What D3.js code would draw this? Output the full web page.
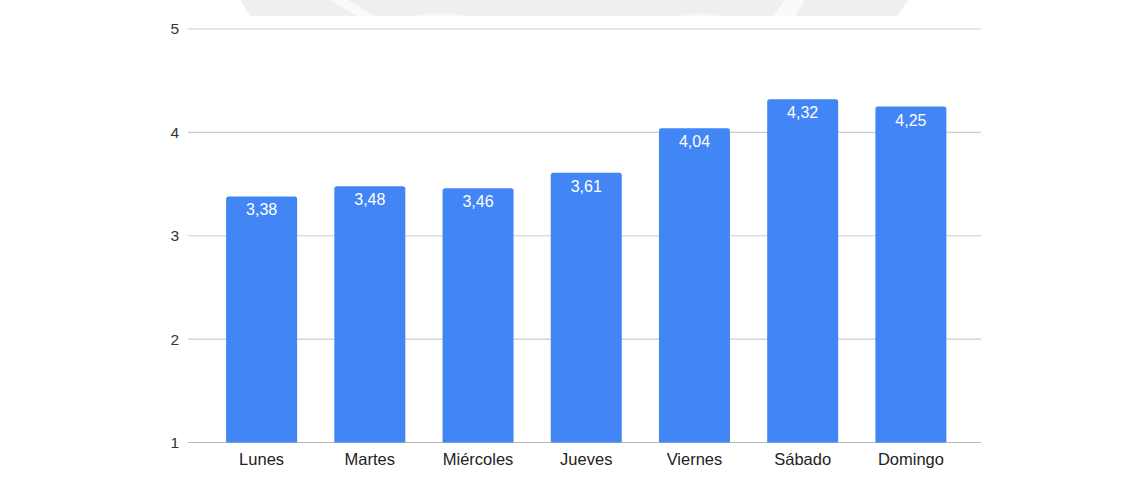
<!DOCTYPE html>
<html>
<head>
<meta charset="utf-8">
<script src="https://cdn.jsdelivr.net/npm/d3@7"></script>
<style>
  html, body { margin: 0; padding: 0; background: #fff; }
  svg { display: block; }
  text { font-family: "Liberation Sans", Arial, sans-serif; }
</style>
</head>
<body>
<svg id="chart" width="1148" height="484"></svg>
<script>
// Days of the week and their average scores
const days = ["Lunes", "Martes", "Miércoles", "Jueves", "Viernes", "Sábado", "Domingo"];
const scores = [3.38, 3.48, 3.46, 3.61, 4.04, 4.32, 4.25];
const yTicks = [1, 2, 3, 4, 5];

const svg = d3.select("#chart");
const W = 1148, H = 484;

// faint background emblem peeking above the plot panel
const mark = svg.append("g").attr("fill", "#efefef");
mark.append("path").attr("d", "M240,0 L900,0 L908,0 L897,16 L250,16 Z");
mark.append("path").attr("fill", "#fafafa")
  .attr("d", "M330,0 L348,0 L375,16 L357,16 Z");
mark.append("path").attr("fill", "#fafafa")
  .attr("d", "M785,0 L805,0 L795,16 L773,16 Z");
mark.append("path").attr("fill", "#f7f7f7")
  .attr("d", "M410,16 Q440,9 470,16 Z M680,16 Q702,10 724,16 Z");

// white plot panel
svg.append("rect").attr("x", 150).attr("y", 16).attr("width", 842).attr("height", H - 16)
  .attr("fill", "#fff");

const left = 188, right = 981;
const y = d3.scaleLinear().domain([1, 5]).range([442.5, 29]);
const x = d3.scaleBand().domain(days).range([207.5, 965]).paddingInner(0.344).paddingOuter(0.172);

// horizontal gridlines
svg.append("g").selectAll("line").data(yTicks).join("line")
  .attr("x1", left).attr("x2", right)
  .attr("y1", d => y(d)).attr("y2", d => y(d))
  .attr("stroke", d => d === 1 ? "#b8b8b8" : "#cccccc")
  .attr("stroke-width", 1.2);

// y axis labels
const yAxis = d3.axisLeft(y).tickValues(yTicks).tickSize(0).tickPadding(0).tickFormat(d3.format("d"));
const gy = svg.append("g").attr("transform", `translate(179,0)`).call(yAxis);
gy.select(".domain").remove();
gy.selectAll("text").attr("font-size", 15.5).attr("fill", "#333")
  .attr("font-family", "'Liberation Sans', Arial, sans-serif");

// bars with slightly rounded tops
const r = 2.5;
svg.append("g").selectAll("path").data(days).join("path")
  .attr("fill", "#4285f4")
  .attr("d", (d, i) => {
    const x0 = x(d), x1 = x(d) + x.bandwidth(), t = y(scores[i]), b = y(1);
    return `M${x0},${b} L${x0},${t + r} Q${x0},${t} ${x0 + r},${t} L${x1 - r},${t} Q${x1},${t} ${x1},${t + r} L${x1},${b} Z`;
  });

// value labels inside bars
svg.append("g").selectAll("text").data(days).join("text")
  .attr("x", d => x(d) + x.bandwidth() / 2)
  .attr("y", (d, i) => y(scores[i]) + 19)
  .attr("text-anchor", "middle")
  .attr("font-size", 16)
  .attr("fill", "#fff")
  .text((d, i) => d3.format(".2f")(scores[i]).replace(".", ","));

// category axis labels
const xAxis = d3.axisBottom(x).tickSize(0).tickPadding(0);
const gx = svg.append("g").attr("transform", `translate(0,${y(1) + 22})`).call(xAxis);
gx.select(".domain").remove();
gx.selectAll("text").attr("font-size", 16.5).attr("fill", "#222").attr("dy", "0")
  .attr("font-family", "'Liberation Sans', Arial, sans-serif");
</script>
</body>
</html>
